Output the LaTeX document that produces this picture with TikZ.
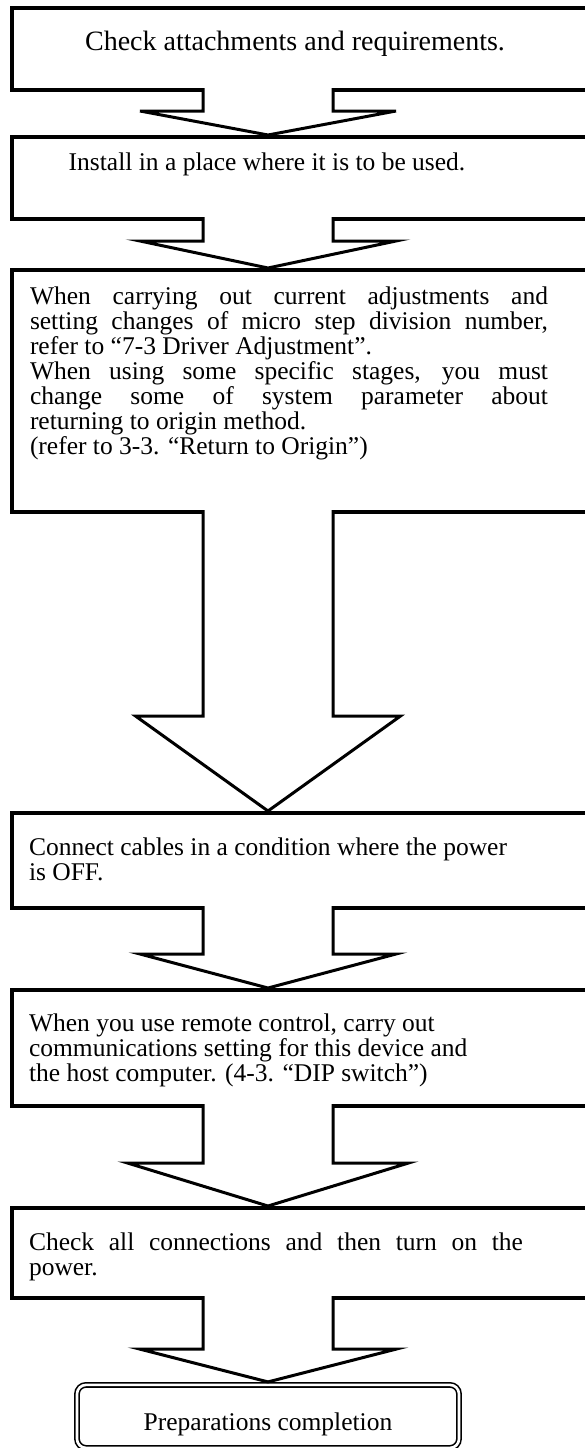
\documentclass[tikz,border=0pt]{standalone}
\usepackage{fontspec}
\setmainfont{Liberation Serif}
\usetikzlibrary{calc}
\hyphenpenalty=10000
\exhyphenpenalty=10000
\newcommand\ptext{\fontsize{25.5}{25}\selectfont\baselineskip=25pt\lineskiplimit=-30pt\relax}
\newcommand\blockarrow[5]{%
  \coordinate (atop) at (#1.south -| ax);
  \coordinate (atip) at ($(#2.north -| ax)+(0,-#5)$);
  \fill[white] ($(atop)+(-65,-5)$) -- ($(atop)+(-65,#3)$) -- ($(atop)+(-#4,#3)$) -- (atip) -- ($(atop)+(#4,#3)$) -- ($(atop)+(65,#3)$) -- ($(atop)+(65,-5)$) -- cycle;
  \draw[arrowline] ($(atop)+(-65,-2)$) -- ($(atop)+(-65,#3)$) -- ($(atop)+(-#4,#3)$) -- (atip) -- ($(atop)+(#4,#3)$) -- ($(atop)+(65,#3)$) -- ($(atop)+(65,-2)$);
}
\begin{document}
\begin{tikzpicture}[x=1pt,y=-1pt,
  box/.style={draw, line width=4pt, inner sep=0pt, outer sep=0pt, minimum width=640pt, anchor=north west},
  arrowline/.style={line width=3pt, line join=miter},
  txt/.style={inner sep=0pt, outer sep=0pt, font=\fontsize{25.5}{25}\selectfont},
  para/.style={inner sep=0pt, outer sep=0pt, anchor=base west, align=justify},
  finalbox/.style={draw, double, line width=1.6pt, double distance=2.6pt, rounded corners=9pt, inner sep=0pt, outer sep=0pt}]
\path[use as bounding box] (0,0) rectangle (585,1448);
\clip (0,0) rectangle (585,1448);
\coordinate (ax) at (268,0);
\node[box, minimum height=82.5pt] (b1) at (12,7.5) {};
\node[box, minimum height=82pt] (b2) at (12,137) {};
\node[box, minimum height=242pt] (b3) at (12,270) {};
\node[box, minimum height=95pt] (b4) at (12,813) {};
\node[box, minimum height=116pt] (b5) at (12,990) {};
\node[box, minimum height=90pt] (b6) at (12,1208) {};
\node[finalbox, minimum width=382pt, minimum height=63pt, anchor=north] (fin) at (268,1384.9) {};
\blockarrow{b1}{b2}{21}{128}{2}
\blockarrow{b2}{b3}{22}{128}{2}
\blockarrow{b3}{b4}{204}{132.5}{2}
\blockarrow{b4}{b5}{46}{128}{2}
\blockarrow{b5}{b6}{57}{140.5}{2}
\blockarrow{b6}{fin}{51}{128.5}{3}
\node[txt, anchor=base, font=\fontsize{28}{28}\selectfont] (t1) at (295,50) {Check attachments and requirements.};
\node[txt, anchor=base] (t2) at (267,170) {Install in a place where it is to be used.};
\node[para, text width=518pt] (t3) at (30,304) {\ptext When carrying out current adjustments and\linebreak setting changes of micro step division number,\linebreak refer to “7-3 Driver Adjustment”.\newline When using some specific stages, you must\linebreak change some of system parameter about\linebreak returning to origin method.\newline (refer to 3-3. “Return to Origin”)\par};
\node[para, text width=518pt] (t4) at (29,855) {\ptext Connect cables in a condition where the power\newline is OFF.\par};
\node[para, text width=518pt] (t5) at (29,1031) {\ptext When you use remote control, carry out\newline communications setting for this device and\newline the host computer. (4-3. “DIP switch”)\par};
\node[para, text width=494pt] (t6) at (29,1250) {\ptext Check all connections and then turn on the\linebreak power.\par};
\node[txt, anchor=base] (t7) at (268,1430) {Preparations completion};
\end{tikzpicture}
\end{document}
